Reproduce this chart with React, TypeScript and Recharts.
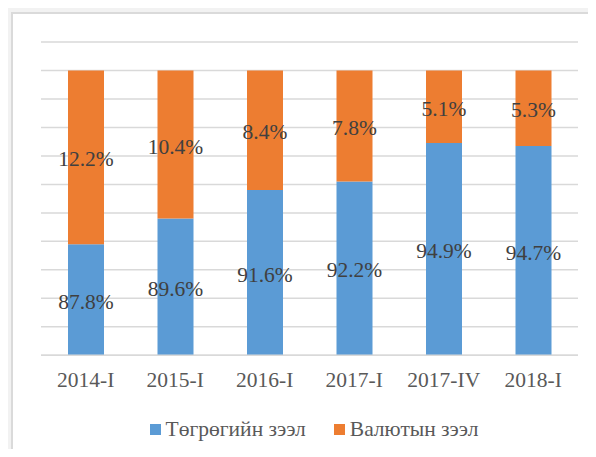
import React from 'react';
import { BarChart, Bar, XAxis, YAxis, CartesianGrid, Legend, LabelList } from 'recharts';

const categories = ['2014-I', '2015-I', '2016-I', '2017-I', '2017-IV', '2018-I'];
const tugrugLoans = [87.8, 89.6, 91.6, 92.2, 94.9, 94.7];
const currencyLoans = [12.2, 10.4, 8.4, 7.8, 5.1, 5.3];
const yTicks = [80, 82, 84, 86, 88, 90, 92, 94, 96, 98, 100, 102];
const seriesNames = ['Төгрөгийн зээл', 'Валютын зээл'];
const seriesColors = ['#5B9BD5', '#ED7D31'];

const data = categories.map((c, i) => ({
  name: c,
  tug: tugrugLoans[i],
  val: currencyLoans[i],
}));

const W = 596;
const H = 457;
const MARGIN = { top: 42, right: 18, left: 41, bottom: 71.7 };
const XAXIS_H = 30;
const PLOT_TOP = MARGIN.top;
const PLOT_BOTTOM = H - MARGIN.bottom - XAXIS_H;
const FONT = '"Liberation Serif", "Times New Roman", serif';
const FS = 21.5;

const CenterLabel = (props: any) => {
  const vb = props.viewBox || {};
  const x = props.x ?? vb.x;
  const y = props.y ?? vb.y;
  const width = props.width ?? vb.width;
  const height = props.height ?? vb.height;
  const value = props.value;
  if (value == null || x == null) return null;
  const a = Math.min(y, y + height);
  const b = Math.max(y, y + height);
  const top = Math.max(a, PLOT_TOP);
  const bottom = Math.min(b, PLOT_BOTTOM);
  const cy = (top + bottom) / 2 + 2;
  return (
    <text
      x={x + width / 2}
      y={cy}
      textAnchor="middle"
      dominantBaseline="central"
      fill="#404040"
      fontSize={FS}
      fontFamily={FONT}
    >
      {Number(value).toFixed(1)}%
    </text>
  );
};

const LegendContent = () => (
  <div
    style={{
      display: 'flex',
      justifyContent: 'center',
      alignItems: 'center',
      fontFamily: FONT,
      fontSize: FS,
      color: '#595959',
      paddingLeft: 32,
    }}
  >
    {seriesNames.map((n, i) => (
      <div key={n} style={{ display: 'flex', alignItems: 'center', marginRight: i === 0 ? 28 : 0 }}>
        <span style={{ display: 'inline-block', width: 11, height: 11, background: seriesColors[i], marginRight: 5 }} />
        <span>{n}</span>
      </div>
    ))}
  </div>
);

export default function App() {
  return (
    <div style={{ margin: -8, width: W, height: H, background: '#f2f2f2', position: 'relative', overflow: 'hidden' }}>
      <div
        style={{
          position: 'absolute',
          left: 10.5,
          top: 12,
          width: 640,
          height: 500,
          background: '#ffffff',
          border: '2px solid #dadada',
          boxSizing: 'border-box',
        }}
      />
      <div style={{ position: 'absolute', left: 0, top: 0 }}>
        <BarChart width={W} height={H} data={data} margin={MARGIN} style={{ fontFamily: FONT }}>
          <CartesianGrid vertical={false} stroke="#d9d9d9" strokeWidth={1.5} />
          <YAxis hide domain={[80, 102]} ticks={yTicks} allowDataOverflow type="number" />
          <XAxis
            dataKey="name"
            height={XAXIS_H}
            tickLine={false}
            axisLine={{ stroke: '#d9d9d9', strokeWidth: 1.5 }}
            tickMargin={10}
            tick={{ fill: '#595959', fontSize: FS, fontFamily: FONT }}
            interval={0}
          />
          <Legend
            layout="horizontal"
            verticalAlign="middle"
            align="center"
            content={<LegendContent />}
            wrapperStyle={{ position: 'absolute', left: 0, top: 417, width: W }}
          />
          <Bar dataKey="tug" name={seriesNames[0]} stackId="a" fill={seriesColors[0]} barSize={36} isAnimationActive={false}>
            <LabelList dataKey="tug" content={<CenterLabel />} />
          </Bar>
          <Bar dataKey="val" name={seriesNames[1]} stackId="a" fill={seriesColors[1]} barSize={36} isAnimationActive={false}>
            <LabelList dataKey="val" content={<CenterLabel />} />
          </Bar>
        </BarChart>
      </div>
    </div>
  );
}
